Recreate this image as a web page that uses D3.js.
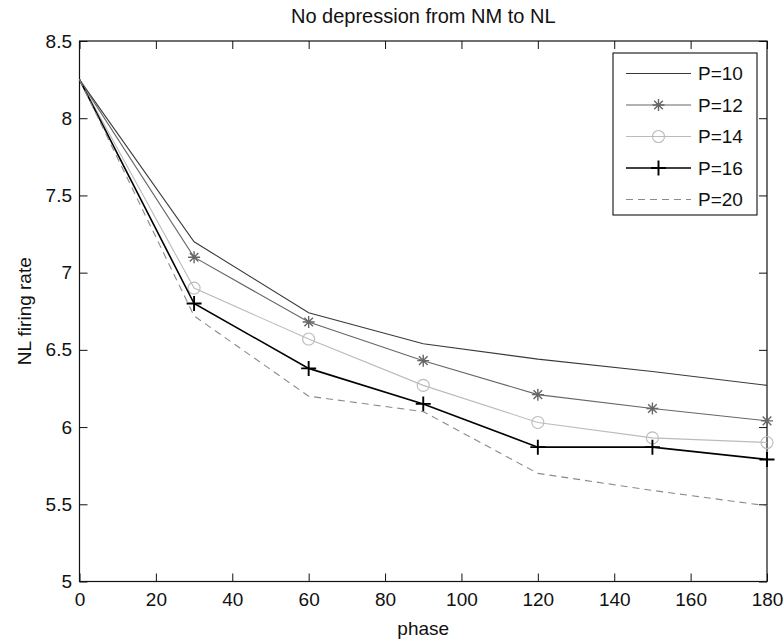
<!DOCTYPE html>
<html>
<head>
<meta charset="utf-8">
<script src="https://d3js.org/d3.v7.min.js"></script>
<style>
  body { margin: 0; background: #fff; }
  text { font-family: "Liberation Sans", Arial, Helvetica, sans-serif; fill: #111; }
</style>
</head>
<body>
<div id="chart"></div>
<script>
// data
const phase = [0, 30, 60, 90, 120, 150, 180]
const p10 = [8.25, 7.2, 6.74, 6.54, 6.44, 6.36, 6.27]
const p12 = [8.25, 7.1, 6.68, 6.43, 6.21, 6.12, 6.04]
const p14 = [8.25, 6.9, 6.57, 6.27, 6.03, 5.93, 5.9]
const p16 = [8.25, 6.8, 6.38, 6.15, 5.87, 5.87, 5.79]
const p20 = [8.25, 6.72, 6.2, 6.1, 5.7, 5.59, 5.49]
const seriesNames = ['P=10', 'P=12', 'P=14', 'P=16', 'P=20']
const xTicks = [0, 20, 40, 60, 80, 100, 120, 140, 160, 180]
const yTicks = [5, 5.5, 6, 6.5, 7, 7.5, 8, 8.5]

const series = [
  { name: seriesNames[0], values: p10, color: '#3a3a3a', width: 1.1, dash: null, marker: null },
  { name: seriesNames[1], values: p12, color: '#666', width: 1.1, dash: null, marker: 'star' },
  { name: seriesNames[2], values: p14, color: '#bbb', width: 1.1, dash: null, marker: 'circle' },
  { name: seriesNames[3], values: p16, color: '#000', width: 1.6, dash: null, marker: 'plus' },
  { name: seriesNames[4], values: p20, color: '#8a8a8a', width: 1.1, dash: '7,5', marker: null }
]

const W = 784, H = 641
const margin = { top: 41, right: 17, bottom: 59.5, left: 79.5 }
const width = W - margin.left - margin.right
const height = H - margin.top - margin.bottom

const svg = d3.select('#chart').append('svg')
  .attr('width', W)
  .attr('height', H)

const g = svg.append('g')
  .attr('transform', 'translate(' + margin.left + ',' + margin.top + ')')

const x = d3.scaleLinear().domain([0, 180]).range([0, width])
const y = d3.scaleLinear().domain([5, 8.5]).range([height, 0])

// axes, ticks pointing inward like matlab
g.append('g')
  .attr('transform', 'translate(0,' + height + ')')
  .call(d3.axisBottom(x).tickValues(xTicks).tickSizeInner(-8).tickSizeOuter(0).tickPadding(11))
g.append('g')
  .call(d3.axisTop(x).tickValues(xTicks).tickSizeInner(-8).tickSizeOuter(0).tickFormat(''))
g.append('g')
  .call(d3.axisLeft(y).tickValues(yTicks).tickSizeInner(-8).tickSizeOuter(0).tickPadding(7.5).tickFormat(d3.format('')))
g.append('g')
  .attr('transform', 'translate(' + width + ',0)')
  .call(d3.axisRight(y).tickValues(yTicks).tickSizeInner(-8).tickSizeOuter(0).tickFormat(''))

g.selectAll('.domain').remove()
g.selectAll('.tick line').attr('stroke', '#111')
g.selectAll('.tick text').attr('font-size', 19).style('font-family', '"Liberation Sans", Arial, sans-serif').attr('fill', '#111')

g.append('rect')
  .attr('width', width)
  .attr('height', height)
  .attr('fill', 'none')
  .attr('stroke', '#111')
  .attr('stroke-width', 1.2)

// lines
const line = d3.line()
  .x(function(d, i) { return x(phase[i]) })
  .y(function(d) { return y(d) })

function markerPath(type) {
  if (type === 'star') {
    const r = 6, a = 4.3
    return 'M' + (-r) + ',0H' + r + 'M0,' + (-r) + 'V' + r +
      'M' + (-a) + ',' + (-a) + 'L' + a + ',' + a + 'M' + (-a) + ',' + a + 'L' + a + ',' + (-a)
  }
  if (type === 'plus') {
    const r = 7.5
    return 'M' + (-r) + ',0H' + r + 'M0,' + (-r) + 'V' + r
  }
  return null
}

function drawMarker(sel, s, cx, cy) {
  if (!s.marker) return
  if (s.marker === 'circle') {
    sel.append('circle')
      .attr('cx', cx).attr('cy', cy).attr('r', 6)
      .attr('fill', 'none').attr('stroke', s.color).attr('stroke-width', 1.1)
  } else {
    sel.append('path')
      .attr('transform', 'translate(' + cx + ',' + cy + ')')
      .attr('d', markerPath(s.marker))
      .attr('fill', 'none').attr('stroke', s.color).attr('stroke-width', s.width + 0.3)
  }
}

for (const s of series) {
  g.append('path')
    .datum(s.values)
    .attr('d', line)
    .attr('fill', 'none')
    .attr('stroke', s.color)
    .attr('stroke-width', s.width)
    .attr('stroke-dasharray', s.dash)
  const mg = g.append('g')
  s.values.forEach(function(v, i) {
    if (i === 0) return // no marker at phase 0
    drawMarker(mg, s, x(phase[i]), y(v))
  })
}

// legend
const lg = svg.append('g')
lg.append('rect')
  .attr('x', 613).attr('y', 53)
  .attr('width', 144).attr('height', 162)
  .attr('fill', '#fff')
  .attr('stroke', '#111')
  .attr('stroke-width', 1.1)
series.forEach(function(s, i) {
  const ly = 73.5 + i * 31.5
  lg.append('line')
    .attr('x1', 626).attr('x2', 691)
    .attr('y1', ly).attr('y2', ly)
    .attr('stroke', s.color)
    .attr('stroke-width', s.width)
    .attr('stroke-dasharray', s.dash)
  drawMarker(lg, s, 658.5, ly)
  lg.append('text')
    .attr('x', 698).attr('y', ly)
    .attr('dy', '0.36em')
    .attr('font-size', 19)
    .text(s.name)
})

// title and axis labels
svg.append('text')
  .attr('x', margin.left + width / 2).attr('y', 22.5)
  .attr('text-anchor', 'middle')
  .attr('font-size', 20)
  .text('No depression from NM to NL')

svg.append('text')
  .attr('x', margin.left + width / 2).attr('y', 635)
  .attr('text-anchor', 'middle')
  .attr('font-size', 19)
  .text('phase')

svg.append('text')
  .attr('transform', 'translate(31,' + (margin.top + height / 2) + ') rotate(-90)')
  .attr('text-anchor', 'middle')
  .attr('font-size', 19)
  .text('NL firing rate')
</script>
</body>
</html>
